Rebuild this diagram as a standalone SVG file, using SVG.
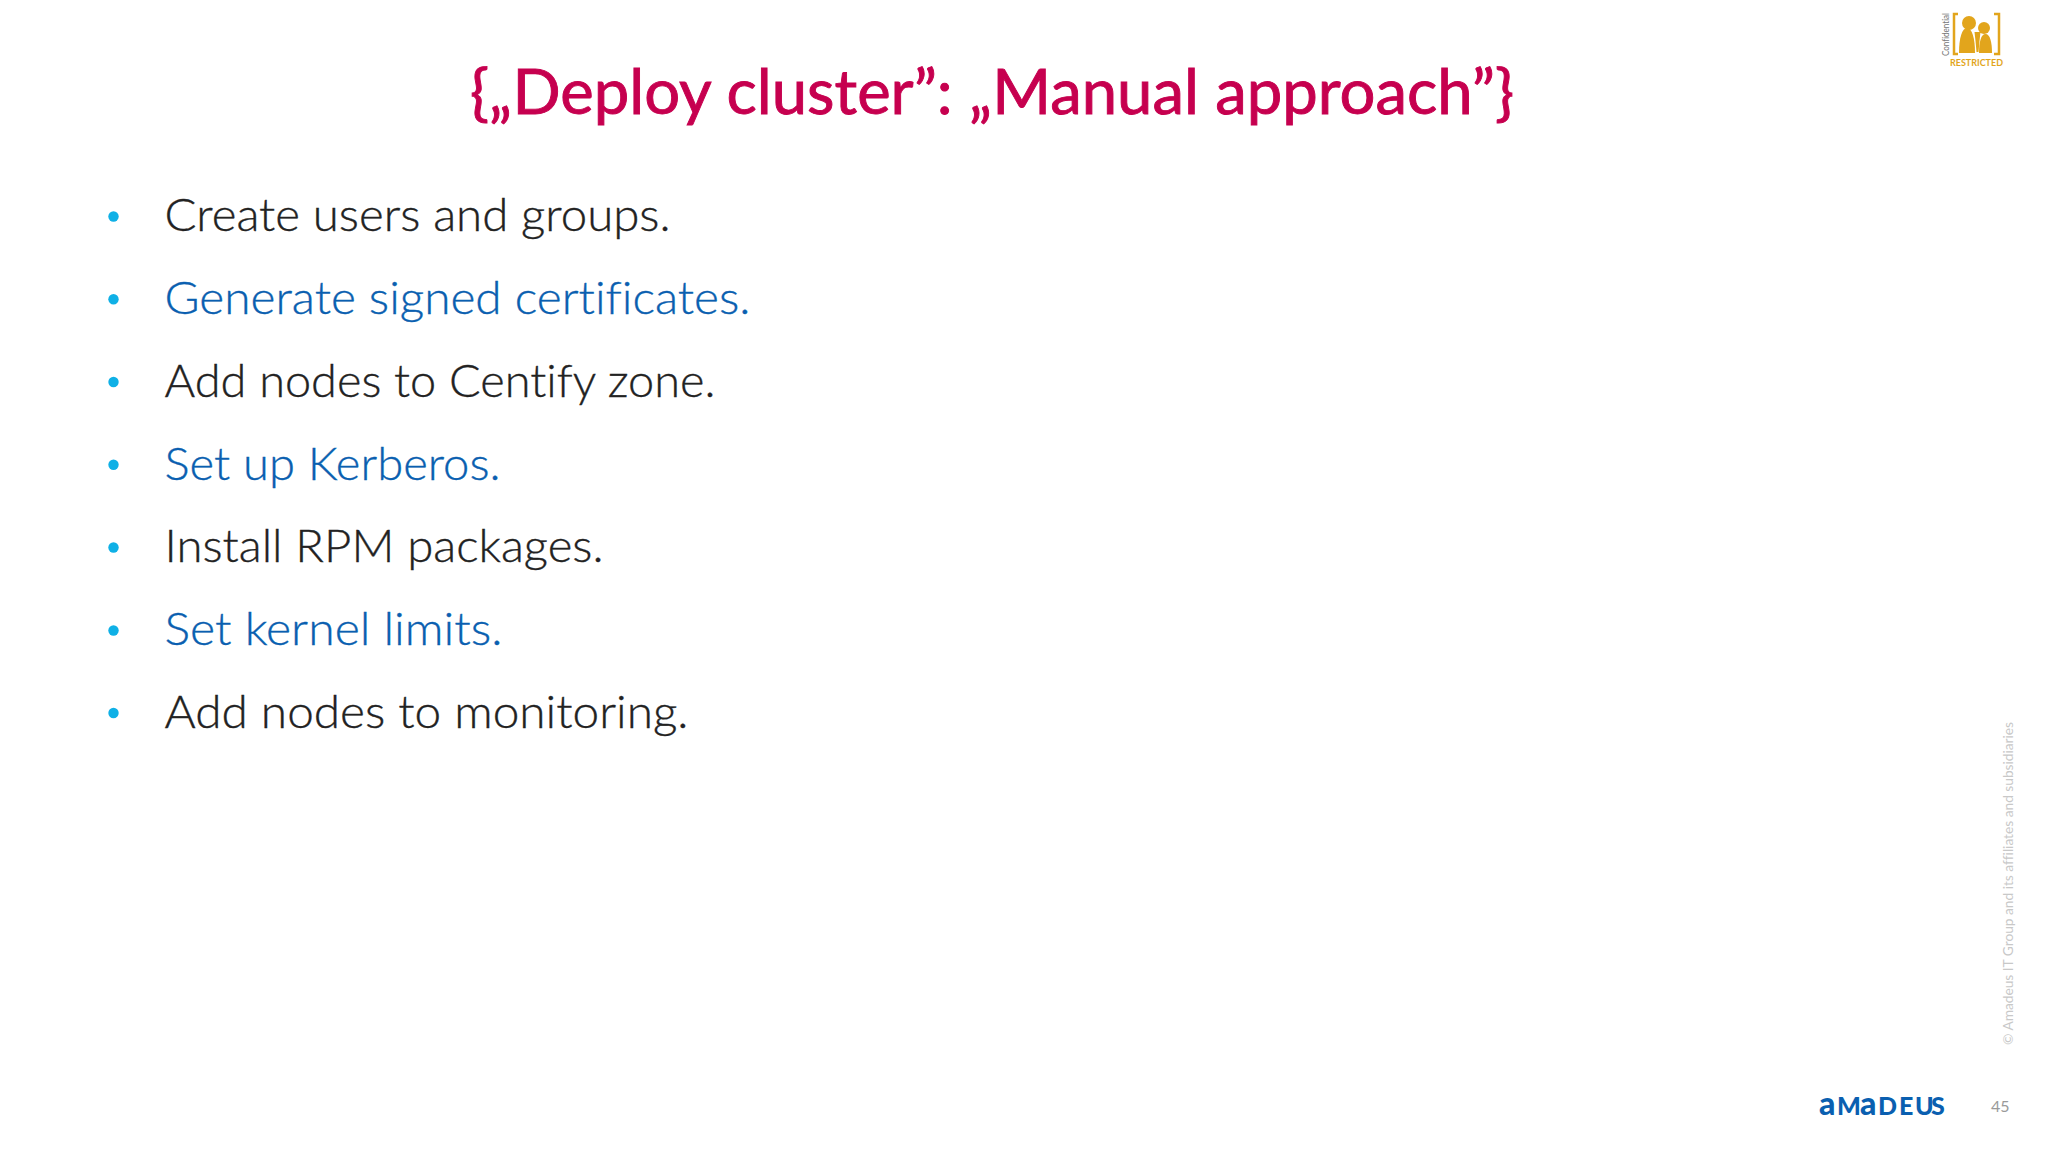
<svg xmlns="http://www.w3.org/2000/svg" width="2048" height="1152" viewBox="0 0 2048 1152">
<style>
text{font-family:Lato,"Liberation Sans",sans-serif;font-variant-ligatures:none}
.t{font-size:46px;font-weight:300;stroke-width:.35px}
.k{fill:#222222;stroke:#222222}
.b{fill:#0a5fb0;stroke:#0a5fb0}
.d{fill:#0fb0e6}
.y{fill:#e2a51c}
</style>
<rect width="2048" height="1152" fill="#ffffff"/>
<text id="title" x="470" y="114" font-size="62" fill="#c6004f" stroke="#c6004f" stroke-width=".9" textLength="1044" lengthAdjust="spacingAndGlyphs">{„Deploy cluster”: „Manual approach”}</text>
<g id="bullets">
<circle class="d" cx="113.500" cy="216.500" r="5.200"/>
<circle class="d" cx="113.500" cy="299.200" r="5.200"/>
<circle class="d" cx="113.500" cy="382" r="5.200"/>
<circle class="d" cx="113.500" cy="464.800" r="5.200"/>
<circle class="d" cx="113.500" cy="547.500" r="5.200"/>
<circle class="d" cx="113.500" cy="630.500" r="5.200"/>
<circle class="d" cx="113.500" cy="713" r="5.200"/>
<text class="t k" x="164.500" y="231" textLength="506" lengthAdjust="spacingAndGlyphs">Create users and groups.</text>
<text class="t b" x="164.500" y="314" textLength="586" lengthAdjust="spacingAndGlyphs">Generate signed certificates.</text>
<text class="t k" x="164.500" y="396.500" textLength="551" lengthAdjust="spacingAndGlyphs">Add nodes to Centify zone.</text>
<text class="t b" x="164.500" y="479.500" textLength="336" lengthAdjust="spacingAndGlyphs">Set up Kerberos.</text>
<text class="t k" x="164.500" y="562" textLength="439" lengthAdjust="spacingAndGlyphs">Install RPM packages.</text>
<text class="t b" x="164.500" y="645" textLength="338" lengthAdjust="spacingAndGlyphs">Set kernel limits.</text>
<text class="t k" x="164.500" y="727.700" textLength="524" lengthAdjust="spacingAndGlyphs">Add nodes to monitoring.</text>
</g>
<g id="badge">
<path d="M1958 14h-4v40h4M1994 14h5v40h-5" fill="none" stroke="#e2a51c" stroke-width="2.500"/>
<circle class="y" cx="1969" cy="23" r="7"/>
<circle class="y" cx="1984" cy="28" r="6"/>
<path class="y" d="M1959 53c0-15 3-25 8-25s8 10 8 25z"/>
<path class="y" d="M1979 53c0-11 2-19 6.500-19s6.500 8 6.500 19z"/>
<path class="y" d="M1974.500 32h6l-1 9-1 11h-2l-1-11z"/>
<text x="1950" y="66" font-size="10" fill="#e2a51c" font-weight="700" textLength="53" lengthAdjust="spacingAndGlyphs">RESTRICTED</text>
<text transform="translate(1949 56) rotate(-90)" font-size="8.500" fill="#777777" textLength="43" lengthAdjust="spacingAndGlyphs">Confidential</text>
</g>
<g id="footer">
<text transform="translate(2013 1045) rotate(-90)" font-size="14" fill="#c8c8c8" textLength="323" lengthAdjust="spacingAndGlyphs">© Amadeus IT Group and its affiliates and subsidiaries</text>
<text x="1991" y="1112" font-size="16" fill="#9a9a9a">45</text>
<text y="1115" font-size="25" font-weight="900" fill="#0a5fb0" x="1819 1837 1860 1878 1899 1915 1931"><tspan font-size="32">a</tspan>M<tspan font-size="32">a</tspan>DEUS</text>
</g>
</svg>
